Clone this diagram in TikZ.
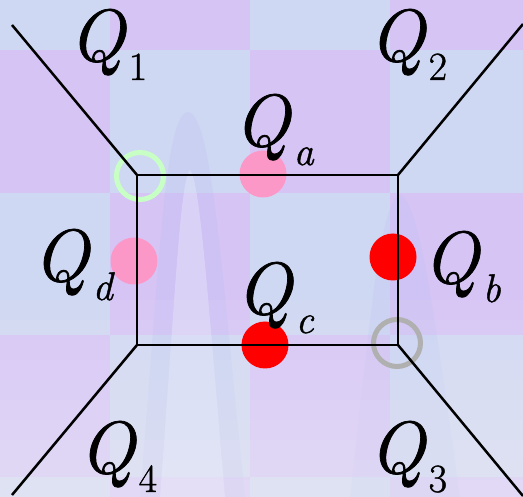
\documentclass[tikz,border=0pt]{standalone}
\usepackage{fontspec}
\newfontfamily\qf[FakeBold=1.0]{Latin Modern Roman}
\definecolor{bgA}{HTML}{CFD8F2}
\definecolor{bgB}{HTML}{D6C4F5}
\definecolor{wave}{HTML}{BCC0F2}
\definecolor{ringG}{HTML}{C8FFC4}
\definecolor{ringY}{HTML}{B0B0B0}
\definecolor{dotP}{HTML}{FC98C8}
\definecolor{dotR}{HTML}{FF0000}
\newcommand\QL[1]{{\qf\fontsize{74}{74}\selectfont\itshape Q}\kern4pt\raisebox{-19pt}{\qf\fontsize{40}{40}\selectfont #1}}
\tikzset{
  edge/.style={line width=2.5pt, black},
  dotbox/.style={circle, minimum size=47pt, inner sep=0pt, draw=none},
  ringbox/.style={circle, minimum size=47pt, inner sep=0pt, line width=5pt, fill=none},
  lbl/.style={anchor=base west, inner sep=0pt, text=black}
}
\begin{document}
\begin{tikzpicture}[x=1pt,y=-1pt]
\useasboundingbox (0,0) rectangle (523,497);
% background checkerboard
\fill[bgA] (0,0) rectangle (523,497);
\foreach \xa/\xb/\ya/\yb in {110/250/0/50, 390/523/0/50,
  0/110/50/193, 250/390/50/193,
  110/250/193/335, 390/523/193/335,
  0/110/335/477, 250/390/335/477,
  110/250/477/497, 390/523/477/497}
  \fill[bgB] (\xa,\ya) rectangle (\xb,\yb);
% soft waves
\fill[wave, opacity=0.3] (140,497) .. controls (160,250) and (165,115) .. (188,112)
  .. controls (211,115) and (220,250) .. (245,497) -- cycle;
\fill[white, opacity=0.25] (160,497) .. controls (175,300) and (180,180) .. (190,170)
  .. controls (200,180) and (208,300) .. (225,497) -- cycle;
\fill[wave, opacity=0.25] (350,497) .. controls (370,320) and (380,200) .. (400,195)
  .. controls (420,200) and (435,320) .. (460,497) -- cycle;
\foreach \i in {0,...,9}
  \fill[white, opacity=0.05] (0,{300+\i*20}) rectangle (523,497);
% rings and dots
\node[ringbox, draw=ringG] (rg) at (140,176) {};
\node[ringbox, draw=ringY] (ry) at (397,343) {};
\node[dotbox, fill=dotP] (da) at (263,174) {};
\node[dotbox, fill=dotP] (dd) at (134,261) {};
\node[dotbox, fill=dotR] (db) at (393,257) {};
\node[dotbox, fill=dotR] (dc) at (265,345) {};
% frame
\coordinate (A) at (137,175);
\coordinate (B) at (398,175);
\coordinate (C) at (398,345);
\coordinate (D) at (137,345);
\coordinate (E1) at (12,25);
\coordinate (E2) at (523,24);
\coordinate (E3) at (523,496);
\coordinate (E4) at (12,495);
\draw[edge, line join=miter] (A) -- (B) -- (C) -- (D) -- cycle;
\draw[edge] (A) -- (E1);
\draw[edge] (B) -- (E2);
\draw[edge] (C) -- (E3);
\draw[edge] (D) -- (E4);
% labels
\node[lbl] (q1) at (69,61) {\QL{1}};
\node[lbl] (q2) at (369,61) {\QL{2}};
\node[lbl] (qa) at (234,146) {\QL{\itshape a}};
\node[lbl] (qd) at (33,281) {\QL{\itshape d}};
\node[lbl] (qb) at (423,283) {\QL{\itshape b}};
\node[lbl] (qc) at (236,314) {\QL{\itshape c}};
\node[lbl] (q4) at (79,473) {\QL{4}};
\node[lbl] (q3) at (369,473) {\QL{3}};
\end{tikzpicture}
\end{document}
